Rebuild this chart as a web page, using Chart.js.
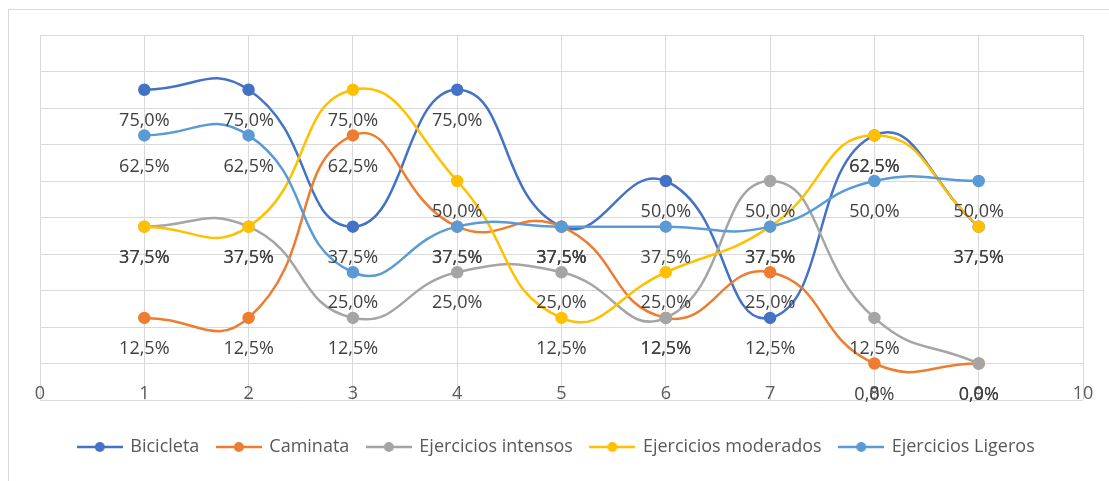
<!DOCTYPE html>
<html lang="es">
<head>
<meta charset="utf-8">
<title>Actividad física por semana</title>
<script src="https://cdn.jsdelivr.net/npm/chart.js@4/dist/chart.umd.min.js"></script>
<style>
  html, body { margin: 0; padding: 0; background: #ffffff; overflow: hidden; }
  #wrap { position: relative; width: 1109px; height: 481px; }
  #frame {
    position: absolute; left: 8px; top: 9px; width: 1200px; height: 600px;
    border-left: 1px solid #d9d9d9; border-top: 1px solid #d9d9d9;
  }
  #chart { position: absolute; left: 0; top: 0; }
</style>
</head>
<body>
<div id="wrap">
  <div id="frame"></div>
  <canvas id="chart" width="1109" height="481"></canvas>
</div>
<script>
// Week numbers on the horizontal axis
const semanas = [1, 2, 3, 4, 5, 6, 7, 8, 9];

// Share of participants per activity (fractions)
const bicicleta   = [0.75, 0.75, 0.375, 0.75, 0.375, 0.5, 0.125, 0.625, 0.375];
const caminata    = [0.125, 0.125, 0.625, 0.375, 0.375, 0.125, 0.25, 0, 0];
const intensos    = [0.375, 0.375, 0.125, 0.25, 0.25, 0.125, 0.5, 0.125, 0];
const moderados   = [0.375, 0.375, 0.75, 0.5, 0.125, 0.25, 0.375, 0.625, 0.375];
const ligeros     = [0.625, 0.625, 0.25, 0.375, 0.375, 0.375, 0.375, 0.5, 0.5];

const seriesNames  = ['Bicicleta', 'Caminata', 'Ejercicios intensos', 'Ejercicios moderados', 'Ejercicios Ligeros'];
const seriesValues = [bicicleta, caminata, intensos, moderados, ligeros];
const seriesColors = ['#4472C4', '#ED7D31', '#A5A5A5', '#FFC000', '#5B9BD5'];

// Axis ranges and steps
const xTicks = { min: 0, max: 10, step: 1 };
const yTicks = { min: -0.1, max: 0.9, step: 0.1 };

const FONT = '"Open Sans", "Noto Sans", sans-serif';

function pct(v) {
  return (v * 100).toFixed(1).replace('.', ',') + '%';
}

// Small line-with-marker swatch used as legend symbol
function swatch(color) {
  const c = document.createElement('canvas');
  c.width = 46; c.height = 14;
  const g = c.getContext('2d');
  g.strokeStyle = color;
  g.lineWidth = 2.5;
  g.beginPath(); g.moveTo(0, 7); g.lineTo(46, 7); g.stroke();
  g.fillStyle = color;
  g.beginPath(); g.arc(23, 7, 5, 0, Math.PI * 2); g.fill();
  return c;
}
const swatches = seriesColors.map(swatch);

const datasets = seriesNames.map((name, i) => ({
  label: name,
  data: semanas.map((x, j) => ({ x: x, y: seriesValues[i][j] })),
  borderColor: seriesColors[i],
  backgroundColor: seriesColors[i],
  pointBackgroundColor: seriesColors[i],
  pointBorderColor: seriesColors[i],
  borderWidth: 2.5,
  pointRadius: 5,
  pointHoverRadius: 5,
  tension: 0.5,
  fill: false,
  order: seriesNames.length - i
}));

// Value labels written under every marker
const valueLabels = {
  id: 'valueLabels',
  afterDatasetsDraw(chart) {
    const ctx = chart.ctx;
    ctx.save();
    ctx.font = '18px ' + FONT;
    ctx.fillStyle = '#404040';
    ctx.textAlign = 'center';
    ctx.textBaseline = 'middle';
    chart.data.datasets.forEach((ds, i) => {
      const meta = chart.getDatasetMeta(i);
      meta.data.forEach((pt, j) => {
        ctx.fillText(pct(ds.data[j].y), pt.x, pt.y + 31);
      });
    });
    ctx.restore();
  }
};

new Chart(document.getElementById('chart'), {
  type: 'line',
  data: { datasets: datasets },
  options: {
    responsive: false,
    animation: false,
    layout: { padding: { left: 20, right: 16, top: 35, bottom: 15 } },
    scales: {
      x: {
        type: 'linear',
        position: { y: 0 },
        min: xTicks.min,
        max: xTicks.max,
        ticks: {
          stepSize: xTicks.step,
          color: '#595959',
          font: { family: FONT, size: 18 },
          padding: 20
        },
        grid: { color: '#d9d9d9', lineWidth: 1, drawTicks: false },
        border: { display: true, color: '#d9d9d9', width: 1 },
        afterFit(scale) { scale.paddingLeft = 0; scale.paddingRight = 0; }
      },
      y: {
        position: 'left',
        min: yTicks.min,
        max: yTicks.max,
        ticks: { stepSize: yTicks.step, display: false },
        grid: { color: '#d9d9d9', lineWidth: 1, drawTicks: false },
        border: { display: false },
        afterFit(scale) { scale.width = 20; }
      },
      yRight: {
        position: 'right',
        min: yTicks.min,
        max: yTicks.max,
        ticks: { display: false },
        grid: { display: false, drawTicks: false },
        border: { display: false },
        afterFit(scale) { scale.width = 10; }
      }
    },
    plugins: {
      tooltip: { enabled: false },
      legend: {
        position: 'bottom',
        title: { display: true, text: '', font: { size: 4, lineHeight: 1 }, padding: { top: 16, bottom: 0 } },
        labels: {
          usePointStyle: true,
          pointStyleWidth: 43,
          padding: 18,
          color: '#595959',
          font: { family: FONT, size: 18 },
          sort: (a, b) => a.datasetIndex - b.datasetIndex,
          generateLabels(chart) {
            const items = Chart.defaults.plugins.legend.labels.generateLabels(chart);
            items.forEach(it => { it.pointStyle = swatches[it.datasetIndex]; });
            return items;
          }
        }
      }
    }
  },
  plugins: [valueLabels]
});
</script>
</body>
</html>
